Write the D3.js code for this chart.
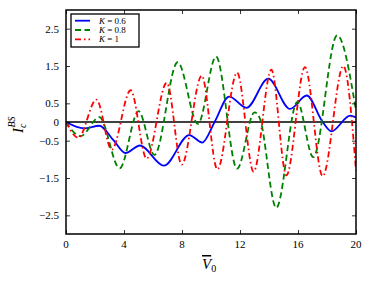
<!DOCTYPE html>
<meta charset="utf-8">
<script src="https://d3js.org/d3.v7.min.js"></script>
<style>
  body { margin: 0; background: #fff; }
  text { font-family: "Liberation Serif", "DejaVu Serif", serif; }
  .ticklab { font-size: 11px; }
  .leg { font-size: 9px; }
</style>
<div id="my_dataviz"></div>
<script>

  ////////////////////// Data ////////////////////////////
  var xTicks = [0, 4, 8, 12, 16, 20];
  var yTicks = [2.5, 1.5, 0.5, 0, -0.5, -1.5, -2.5];
  var labels = ["0.6", "0.8", "1"];
  var colors = ["#0000ff", "#008000", "#ff0000"];

  // K = 0.6
  var seriesK06 = [
    [0, 0], [1.25, -0.17], [2.3, -0.1], [3.3, -0.5], [4.1, -0.83], [5.1, -0.63],
    [6.75, -1.17], [8.5, -0.35], [9.4, -0.55], [10.25, 0],
    [11.25, 0.68], [12.45, 0.38], [13.95, 1.16], [15.45, 0.35], [16.6, 0.71],
    [17.7, 0], [18.3, -0.25], [19.6, 0.17], [20, 0.12]
  ];
  // K = 0.8
  var seriesK08 = [
    [0, 0], [1.0, -0.38], [2.3, 0.13], [3.7, -1.24], [5.0, 0.29], [6.1, -0.88],
    [7.7, 1.6], [9.1, -0.05], [10.35, 1.75], [11.8, -1.25], [13.0, 0.26],
    [13.35, 0.12], [14.5, -2.3], [15.95, 0.54], [17.05, -0.94], [18.7, 2.32],
    [20, 0.3]
  ];
  // K = 1
  var seriesK1 = [
    [0, 0], [0.85, -0.42], [2.1, 0.6], [3.15, -0.74], [4.46, 0.85], [5.56, -0.98],
    [6.95, 1.05], [7.98, -1.14], [9.36, 1.24], [10.44, -1.27], [11.8, 1.32],
    [12.94, -1.33], [14.16, 1.4], [15.2, -1.43], [16.48, 1.47], [17.7, -1.45],
    [19.13, 1.5], [20, -1.3]
  ];
  var series = [seriesK06, seriesK08, seriesK1];
  var dashes = [null, "6,3.5", "6,3,1.5,3"];

  ////////////////////// Layout ////////////////////////////
  var width = 373, height = 281;
  var mLeft = 66, mRight = 356, mTop = 10, mBottom = 234;

  var x = d3.scaleLinear().domain([0, 20]).range([mLeft, mRight]);
  var y = d3.scaleLinear().domain([-3, 3]).range([mBottom, mTop]);

  var svg = d3.select("#my_dataviz")
    .append("svg")
      .attr("width", width)
      .attr("height", height);

  svg.append("defs").append("clipPath")
      .attr("id", "clip")
    .append("rect")
      .attr("x", mLeft).attr("y", mTop)
      .attr("width", mRight - mLeft).attr("height", mBottom - mTop);

  // zero line
  svg.append("line")
    .attr("x1", x(0)).attr("x2", x(20))
    .attr("y1", y(0)).attr("y2", y(0))
    .attr("stroke", "black")
    .attr("stroke-width", 1.3);

  // curves
  var line = d3.line()
    .x(function(d) { return x(d[0]); })
    .y(function(d) { return y(d[1]); })
    .curve(d3.curveMonotoneX);

  svg.append("g")
    .attr("clip-path", "url(#clip)")
    .selectAll("path")
    .data(series)
    .enter()
    .append("path")
      .attr("d", line)
      .attr("fill", "none")
      .attr("stroke", function(d, i) { return colors[i]; })
      .attr("stroke-width", 1.8)
      .attr("stroke-dasharray", function(d, i) { return dashes[i]; });

  ////////////////////// Axes (inward ticks on all sides) ////////////////////////////
  svg.append("g")
    .attr("transform", "translate(0," + mBottom + ")")
    .call(d3.axisBottom(x).tickValues(xTicks).tickSize(-4).tickFormat(""));
  svg.append("g")
    .attr("transform", "translate(0," + mTop + ")")
    .call(d3.axisTop(x).tickValues(xTicks).tickSize(-4).tickFormat(""));
  svg.append("g")
    .attr("transform", "translate(" + mLeft + ",0)")
    .call(d3.axisLeft(y).tickValues(yTicks).tickSize(-4).tickFormat(""));
  svg.append("g")
    .attr("transform", "translate(" + mRight + ",0)")
    .call(d3.axisRight(y).tickValues(yTicks).tickSize(-4).tickFormat(""));
  svg.selectAll(".domain").remove();
  svg.selectAll(".tick line").attr("stroke", "black").attr("stroke-width", 0.8);

  // frame
  svg.append("rect")
    .attr("x", mLeft).attr("y", mTop)
    .attr("width", mRight - mLeft).attr("height", mBottom - mTop)
    .attr("fill", "none")
    .attr("stroke", "black")
    .attr("stroke-width", 1.5);

  // tick labels
  svg.selectAll(".xlab")
    .data(xTicks)
    .enter()
    .append("text")
      .classed("ticklab", true)
      .attr("x", function(d) { return x(d); })
      .attr("y", mBottom + 14)
      .attr("text-anchor", "middle")
      .text(function(d) { return d; });

  svg.selectAll(".ylab")
    .data(yTicks)
    .enter()
    .append("text")
      .classed("ticklab", true)
      .attr("x", mLeft - 7)
      .attr("y", function(d) { return y(d) + 4; })
      .attr("text-anchor", "end")
      .text(function(d) { return d < 0 ? "\u2212" + Math.abs(d) : d; });

  // x label : overline V, subscript 0
  var xl = svg.append("text")
    .attr("x", 202)
    .attr("y", 269)
    .style("font-size", "15px");
  xl.append("tspan")
    .style("font-style", "italic")
    .style("text-decoration", "overline")
    .text("V");
  xl.append("tspan")
    .attr("dy", 3)
    .style("font-size", "10px")
    .text("0");

  // y label : I_c^BS rotated
  var yl = svg.append("text")
    .attr("transform", "translate(23,133) rotate(-90)")
    .style("font-size", "15px");
  yl.append("tspan")
    .style("font-style", "italic")
    .text("I");
  yl.append("tspan")
    .attr("dy", 3)
    .style("font-size", "10px")
    .style("font-style", "italic")
    .text("c");
  yl.append("tspan")
    .attr("dx", -4)
    .attr("dy", -11)
    .style("font-size", "10px")
    .style("font-style", "italic")
    .text("BS");

  ////////////////////// Legend ////////////////////////////
  var legend = svg.append("g");
  legend.append("rect")
    .attr("x", 71).attr("y", 14)
    .attr("width", 68).attr("height", 33)
    .attr("fill", "white")
    .attr("stroke", "black")
    .attr("stroke-width", 1.3);

  var rows = legend.selectAll(".legends")
    .data(labels)
    .enter()
    .append("g")
      .classed("legends", true)
      .attr("transform", function(d, i) { return "translate(0," + (20.7 + i * 9.3) + ")"; });

  rows.append("line")
    .attr("x1", 75).attr("x2", 90)
    .attr("y1", 0).attr("y2", 0)
    .attr("stroke", function(d, i) { return colors[i]; })
    .attr("stroke-width", 1.8)
    .attr("stroke-dasharray", function(d, i) { return dashes[i]; });

  var lt = rows.append("text")
    .classed("leg", true)
    .attr("x", 99)
    .attr("y", 3);
  lt.append("tspan").style("font-style", "italic").text("K");
  lt.append("tspan").text(function(d) { return " = " + d; });

</script>
